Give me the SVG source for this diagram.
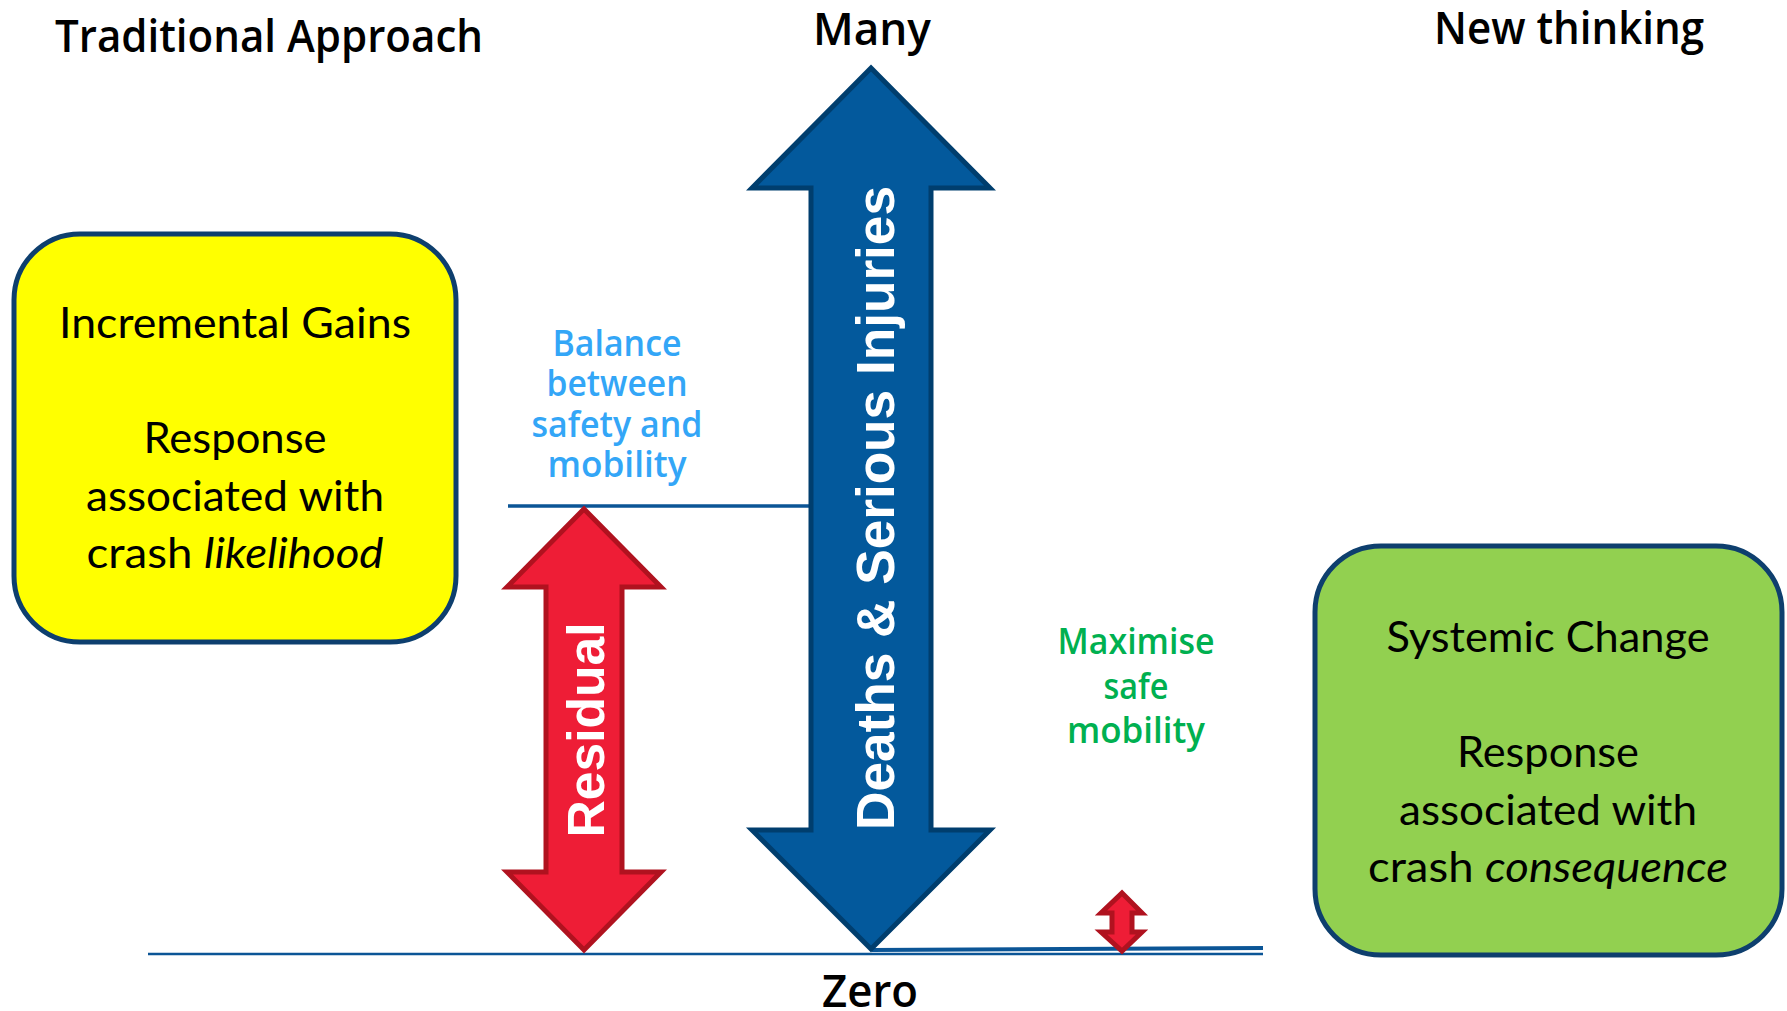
<svg xmlns="http://www.w3.org/2000/svg" width="1787" height="1011" viewBox="0 0 1787 1011">
  <style>
    .title { font-family: "Open Sans", "Noto Sans", sans-serif; font-weight: 600; font-size: 45px; fill: #000; text-anchor: middle; }
    .note { font-family: "Open Sans", "Noto Sans", sans-serif; font-weight: 600; font-size: 36px; text-anchor: middle; }
    .blue-note { fill: #33A6F7; }
    .green-note { fill: #00B050; }
    .box { stroke: #0E3F6E; stroke-width: 5; }
    .box-text { font-family: Lato, "Noto Sans", sans-serif; font-size: 43px; fill: #000; text-anchor: middle; }
    .arrow-label { font-family: "Liberation Sans", Arial, sans-serif; font-weight: 700; fill: #fff; text-anchor: middle; }
    .blue-arrow { fill: #03599C; stroke: #003E6E; stroke-width: 5; stroke-linejoin: miter; }
    .red-arrow { fill: #EE1D36; stroke: #B0121F; stroke-width: 5; stroke-linejoin: miter; }
    .axis { fill: none; stroke: #0B5596; }
  </style>
  <rect width="1787" height="1011" fill="#ffffff"/>

  <!-- headings -->
  <text class="title" x="269" y="52" textLength="428" lengthAdjust="spacingAndGlyphs">Traditional Approach</text>
  <text class="title" x="872" y="45" textLength="118" lengthAdjust="spacingAndGlyphs">Many</text>
  <text class="title" x="1569" y="44" textLength="270" lengthAdjust="spacingAndGlyphs">New thinking</text>
  <text class="title" x="870" y="1007" textLength="96" lengthAdjust="spacingAndGlyphs">Zero</text>

  <!-- reference lines -->
  <g id="connectors">
    <line class="axis" x1="148" y1="954" x2="1263" y2="954" stroke-width="2.5"/>
    <line class="axis" x1="872" y1="950" x2="1263" y2="948" stroke-width="4"/>
    <line class="axis" x1="508" y1="506" x2="812" y2="506" stroke-width="3.5"/>
  </g>

  <!-- traditional approach box -->
  <g id="incremental-gains">
    <rect class="box" x="14" y="234" width="442" height="408" rx="66" ry="66" fill="#FFFF00"/>
    <text class="box-text" x="235" y="338" textLength="352" lengthAdjust="spacingAndGlyphs">Incremental Gains</text>
    <text class="box-text" x="235" y="453" textLength="183" lengthAdjust="spacingAndGlyphs">Response</text>
    <text class="box-text" x="235" y="511" textLength="298" lengthAdjust="spacingAndGlyphs">associated with</text>
    <text class="box-text" x="235" y="568" textLength="297" lengthAdjust="spacingAndGlyphs">crash <tspan font-style="italic">likelihood</tspan></text>
  </g>

  <!-- new thinking box -->
  <g id="systemic-change">
    <rect class="box" x="1315" y="546" width="467" height="409" rx="66" ry="66" fill="#92D050"/>
    <text class="box-text" x="1548" y="652" textLength="323" lengthAdjust="spacingAndGlyphs">Systemic Change</text>
    <text class="box-text" x="1548" y="767" textLength="182" lengthAdjust="spacingAndGlyphs">Response</text>
    <text class="box-text" x="1548" y="825" textLength="298" lengthAdjust="spacingAndGlyphs">associated with</text>
    <text class="box-text" x="1548" y="882" textLength="360" lengthAdjust="spacingAndGlyphs">crash <tspan font-style="italic">consequence</tspan></text>
  </g>

  <!-- balance label -->
  <g id="balance-note">
    <text class="note blue-note" x="617" y="356" textLength="129" lengthAdjust="spacingAndGlyphs">Balance</text>
    <text class="note blue-note" x="617" y="396" textLength="141" lengthAdjust="spacingAndGlyphs">between</text>
    <text class="note blue-note" x="617" y="437" textLength="171" lengthAdjust="spacingAndGlyphs">safety and</text>
    <text class="note blue-note" x="617" y="477" textLength="139" lengthAdjust="spacingAndGlyphs">mobility</text>
  </g>

  <!-- safe mobility label -->
  <g id="safe-mobility-note">
    <text class="note green-note" x="1136" y="654" textLength="157" lengthAdjust="spacingAndGlyphs">Maximise</text>
    <text class="note green-note" x="1136" y="699" textLength="65" lengthAdjust="spacingAndGlyphs">safe</text>
    <text class="note green-note" x="1136" y="743" textLength="138" lengthAdjust="spacingAndGlyphs">mobility</text>
  </g>

  <!-- deaths and serious injuries scale -->
  <g id="deaths-arrow">
    <polygon class="blue-arrow" points="871,68 990,188 931,188 931,830 990,830 871,949 752,830 811,830 811,188 752,188"/>
    <text class="arrow-label" font-size="53" transform="translate(894,508) rotate(-90)" x="0" y="0" textLength="644" lengthAdjust="spacingAndGlyphs">Deaths &amp; Serious Injuries</text>
  </g>

  <!-- residual harm -->
  <g id="residual-arrow">
    <polygon class="red-arrow" points="584,509 661,587 622,587 622,872 661,872 584,950 507,872 546,872 546,587 507,587"/>
    <text class="arrow-label" font-size="52" transform="translate(604,730) rotate(-90)" x="0" y="0" textLength="215" lengthAdjust="spacingAndGlyphs">Residual</text>
  </g>

  <!-- small remaining harm -->
  <g id="safe-arrow">
    <polygon class="red-arrow" stroke-width="3" points="1122,893 1142,913 1132,913 1132,932 1142,932 1122,951 1101,932 1112,932 1112,913 1101,913"/>
  </g>
</svg>
